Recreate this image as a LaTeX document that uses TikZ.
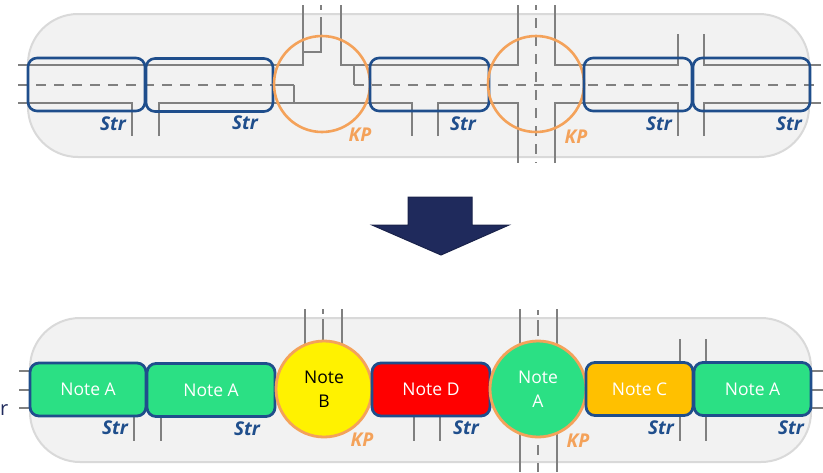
\documentclass[tikz,border=0pt]{standalone}
\usepackage{fontspec}
\setmainfont{Open Sans}
\usepackage{xcolor}
\definecolor{strblue}{HTML}{1F4E8C}
\definecolor{kporange}{HTML}{F4A25A}
\definecolor{notegreen}{HTML}{2BE084}
\definecolor{noteamber}{HTML}{FFC000}
\definecolor{arrownavy}{HTML}{1F2A5C}
\begin{document}
\begin{tikzpicture}[
    x=1pt, y=-1pt,
    panel/.style={draw=gray!30, line width=2pt, fill=gray!10, rounded corners=50pt},
    road/.style={draw=gray, line width=2.2pt},
    roaddash/.style={road, dash pattern=on 10pt off 8pt},
    strbox/.style={draw=strblue, line width=2.6pt, rectangle, rounded corners=9pt, inner sep=0pt, outer sep=0pt, minimum height=53pt},
    kpcircle/.style={draw=kporange, line width=2.6pt, circle, inner sep=0pt, outer sep=0pt, minimum size=96pt},
    strnote/.style={strbox, line width=2.8pt, text=white, font=\fontsize{17.5}{20}\selectfont},
    kpnote/.style={kpcircle, line width=2.8pt, align=center, font=\fontsize{17.5}{24}\selectfont},
    strlabel/.style={text=strblue, font=\bfseries\itshape\fontsize{19}{19}\selectfont},
    kplabel/.style={text=kporange, font=\bfseries\itshape\fontsize{19}{19}\selectfont}
]
\useasboundingbox (0,0) rectangle (823,472);

% Top panel
\draw [panel] (28,14) rectangle (809,157);

\draw [road] (18,65) -- (303,65) -- (303,5);
\draw [road] (321,17) -- (321,52) -- (303,52);
\draw [road] (321,5) -- (321,10);
\draw [road] (341,5) -- (341,65) -- (518,65) -- (518,5);
\draw [road] (354,65) -- (354,85);
\draw [road] (18,103) -- (132,103) -- (132,136);
\draw [road] (159,136) -- (159,103) -- (412,103) -- (412,136);
\draw [road] (294,85) -- (294,103);
\draw [road] (273,85) -- (294,85);
\draw [roaddash] (18,85) -- (273,85);
\draw [roaddash] (354,85) -- (821,85);
\draw [road] (438,136) -- (438,103) -- (518,103) -- (518,163);
\draw [road] (555,5) -- (555,65) -- (678,65) -- (678,34);
\draw [road] (555,163) -- (555,103) -- (678,103) -- (678,136);
\draw [road] (704,34) -- (704,65) -- (821,65);
\draw [road] (704,136) -- (704,103) -- (821,103);
\draw [roaddash, dash phase=5pt] (536,5) -- (536,163);

\node (strA) [strbox, minimum width=117pt] at (86.5,84.5) {};
\node (strB) [strbox, minimum width=127pt] at (209.5,85) {};
\node (kpA) [kpcircle] at (322,84) {};
\node (strC) [strbox, minimum width=119pt] at (429.5,84.5) {};
\node (kpB) [kpcircle] at (536,84) {};
\node (strD) [strbox, minimum width=108pt] at (638,84.5) {};
\node (strE) [strbox, minimum width=117pt] at (751.5,84.5) {};

\node (labelstrA) [strlabel] at (113,124) {Str};
\node (labelstrB) [strlabel] at (245,123) {Str};
\node (labelstrC) [strlabel] at (463,124) {Str};
\node (labelstrD) [strlabel] at (659,124) {Str};
\node (labelstrE) [strlabel] at (789,124) {Str};
\node (labelkpA) [kplabel] at (360,135) {KP};
\node (labelkpB) [kplabel] at (576,137) {KP};

% Arrow
\fill [arrownavy, draw=arrownavy!80!black, line width=1pt] (408,197) -- (472,197) -- (472,225) -- (509,225) -- (441,255) -- (372,225) -- (408,225) -- cycle;

% Bottom panel
\draw [panel] (30,318) rectangle (811,462);

\draw [road] (19,371) -- (30,371);
\draw [road] (19,390) -- (30,390);
\draw [road] (19,408) -- (30,408);
\draw [road] (811,371) -- (823,371);
\draw [road] (811,390) -- (823,390);
\draw [road] (811,408) -- (823,408);
\draw [road] (134,416) -- (134,441);
\draw [road] (161,416) -- (161,441);
\draw [road] (414,416) -- (414,441);
\draw [road] (440,416) -- (440,441);
\draw [road] (680,416) -- (680,441);
\draw [road] (706,416) -- (706,441);
\draw [road] (680,339) -- (680,363);
\draw [road] (706,339) -- (706,363);
\draw [road] (305,309) -- (305,345);
\draw [road] (342,309) -- (342,345);
\draw [road] (323,309) -- (323,314);
\draw [road] (323,319) -- (323,345);
\draw [road] (520,309) -- (520,472);
\draw [road] (557,309) -- (557,472);
\draw [road] (538,310) -- (538,315);
\draw [road] (538,320) -- (538,336);
\draw [road] (538,445) -- (538,455);
\draw [road] (538,463) -- (538,472);

\node (noteA) [strnote, fill=notegreen, minimum width=116pt] at (88,389.5) {Note A};
\node (noteAb) [strnote, fill=notegreen, minimum width=128pt] at (211,390) {Note A};
\node (noteB) [kpnote, fill=yellow] at (324,389) {Note\\B};
\node (noteD) [strnote, fill=red, minimum width=118pt] at (431,389.5) {Note D};
\node (noteAc) [kpnote, fill=notegreen, text=white] at (538,389) {Note\\A};
\node (noteC) [strnote, fill=noteamber, minimum width=107pt] at (639.5,389) {Note C};
\node (noteAd) [strnote, fill=notegreen, minimum width=117pt] at (752.5,389) {Note A};

\node (labelstrF) [strlabel] at (115,428) {Str};
\node (labelstrG) [strlabel] at (247,429) {Str};
\node (labelstrH) [strlabel] at (466,428) {Str};
\node (labelstrI) [strlabel] at (661,428) {Str};
\node (labelstrJ) [strlabel] at (791,428) {Str};
\node (labelkpC) [kplabel] at (362,440) {KP};
\node (labelkpD) [kplabel] at (578,441) {KP};

% Left edge
\node (edgeletter) [text=arrownavy, font=\fontsize{20}{20}\selectfont, inner sep=0pt, anchor=base west] at (0,415) {r};

\end{tikzpicture}
\end{document}
